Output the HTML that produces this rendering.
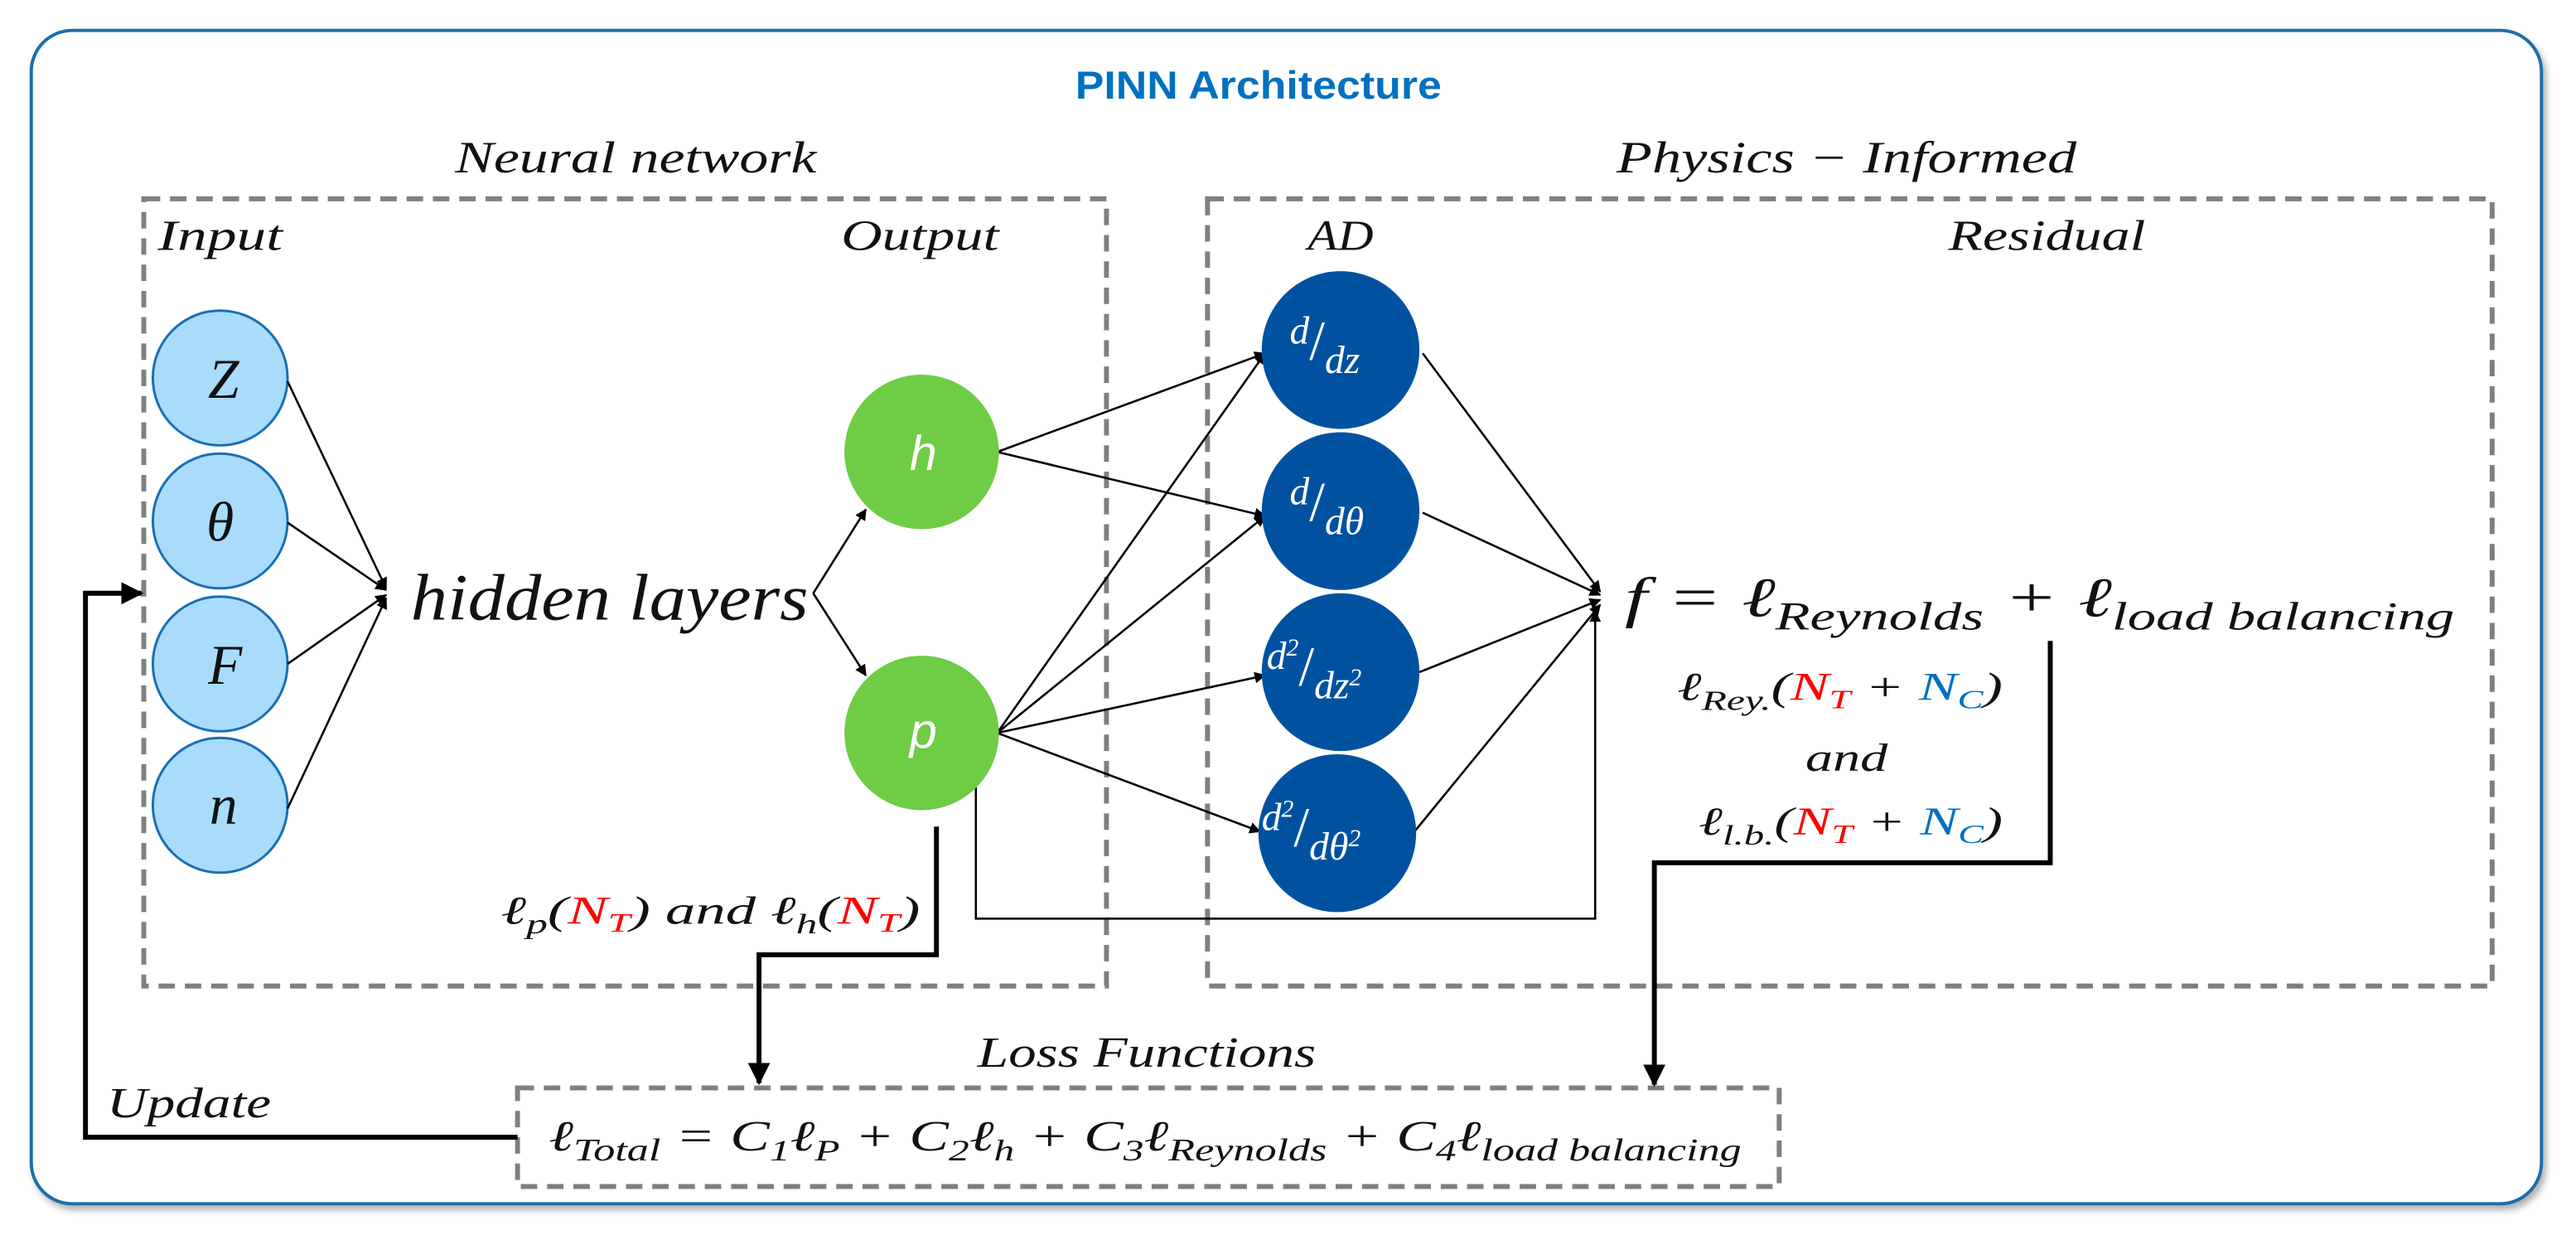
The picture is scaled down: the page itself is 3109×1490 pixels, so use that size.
<!DOCTYPE html>
<html><head><meta charset="utf-8"><style>
html,body{margin:0;padding:0;background:#fff;}
svg{display:block;}
text{font-family:"Liberation Serif","DejaVu Serif",serif;font-style:italic;fill:#111;}
.s{font-family:"Liberation Sans","DejaVu Sans",sans-serif;}
</style></head><body>
<svg width="3109" height="1490" viewBox="0 0 1568 751.5" xmlns="http://www.w3.org/2000/svg">
<defs>
<marker id="a" viewBox="0 0 10 10" refX="9" refY="5" markerWidth="7" markerHeight="7" markerUnits="userSpaceOnUse" orient="auto"><path d="M0,0 L10,5 L0,10 z" fill="#000"/></marker>
<marker id="b" viewBox="0 0 10 10" refX="9" refY="5" markerWidth="4.5" markerHeight="4.5" orient="auto"><path d="M0,0 L10,5 L0,10 z" fill="#000"/></marker>
<filter id="sh" x="-5%" y="-5%" width="110%" height="110%"><feDropShadow dx="2" dy="3" stdDeviation="2" flood-color="#000" flood-opacity="0.3"/></filter>
</defs>
<rect x="19" y="18.5" width="1528" height="714" rx="25" ry="25" fill="#fff" stroke="#1a6ea8" stroke-width="2" filter="url(#sh)"/>
<text x="766" y="60" class="s" text-anchor="middle" font-size="24" font-weight="bold" style="fill:#0070c0;font-style:normal" textLength="223" lengthAdjust="spacingAndGlyphs">PINN Architecture</text>

<g fill="none" stroke="#7f7f7f" stroke-width="3" stroke-dasharray="10,6">
<rect x="87.5" y="121" width="586" height="479"/>
<rect x="735" y="121" width="782" height="479"/>
<rect x="315" y="662" width="768" height="60"/>
</g>

<text x="277" y="105" font-size="27" textLength="220" lengthAdjust="spacingAndGlyphs">Neural network</text>
<text x="984" y="105" font-size="27" textLength="280" lengthAdjust="spacingAndGlyphs">Physics − Informed</text>
<text x="96" y="152" font-size="26" textLength="76" lengthAdjust="spacingAndGlyphs">Input</text>
<text x="512" y="152" font-size="26" textLength="96" lengthAdjust="spacingAndGlyphs">Output</text>
<text x="796" y="152" font-size="26" textLength="40" lengthAdjust="spacingAndGlyphs">AD</text>
<text x="1186" y="152" font-size="26" textLength="120" lengthAdjust="spacingAndGlyphs">Residual</text>

<g fill="#a9dcfb" stroke="#1a6eb5" stroke-width="1.5">
<circle cx="134" cy="230" r="41"/><circle cx="134" cy="317" r="41"/><circle cx="134" cy="404" r="41"/><circle cx="134" cy="490" r="41"/>
</g>
<g font-size="34" text-anchor="middle">
<text x="136" y="242">Z</text><text x="134" y="329">θ</text><text x="137" y="416">F</text><text x="136" y="501">n</text>
</g>
<g stroke="#000" stroke-width="1.3" marker-end="url(#a)" fill="none">
<line x1="175" y1="232" x2="235" y2="358"/>
<line x1="175" y1="318" x2="235" y2="359"/>
<line x1="175" y1="404" x2="235" y2="362"/>
<line x1="175" y1="492" x2="235" y2="364"/>
<line x1="495" y1="361" x2="527" y2="310"/>
<line x1="495" y1="361" x2="527" y2="411"/>
<line x1="607" y1="275" x2="770" y2="215"/>
<line x1="607" y1="275" x2="770" y2="314"/>
<line x1="607" y1="446" x2="770" y2="215"/>
<line x1="607" y1="446" x2="770" y2="314"/>
<line x1="607" y1="446" x2="770" y2="411"/>
<line x1="607" y1="446" x2="767" y2="506"/>
<line x1="866" y1="215" x2="974" y2="360"/>
<line x1="866" y1="312" x2="974" y2="362"/>
<line x1="864" y1="409" x2="974" y2="365"/>
<line x1="861" y1="506" x2="974" y2="368"/>
<polyline points="594,479 594,559 971,559 971,372"/>
</g>
<text x="250" y="377" font-size="40" textLength="242" lengthAdjust="spacingAndGlyphs">hidden layers</text>

<g fill="#6ecc45"><circle cx="561" cy="275" r="47"/><circle cx="561" cy="446" r="47"/></g>
<text x="562" y="286" class="s" font-size="30" text-anchor="middle" style="fill:#fff">h</text>
<text x="562" y="455" class="s" font-size="30" text-anchor="middle" style="fill:#fff">p</text>

<g fill="#0052a0"><circle cx="816" cy="213" r="48"/><circle cx="816" cy="311" r="48"/><circle cx="816" cy="409" r="48"/><circle cx="814" cy="507" r="48"/></g>
<g style="fill:#fff;font-style:italic" font-size="24">
<text x="785" y="209" style="fill:#fff">d<tspan font-size="34" dy="10" font-style="normal">/</tspan><tspan dy="8">dz</tspan></text>
<text x="785" y="307" style="fill:#fff">d<tspan font-size="34" dy="10" font-style="normal">/</tspan><tspan dy="8">dθ</tspan></text>
<text x="771" y="407" style="fill:#fff">d<tspan font-size="15" dy="-8">2</tspan><tspan font-size="34" dy="18" font-style="normal">/</tspan><tspan dy="8">dz</tspan><tspan font-size="15" dy="-8">2</tspan></text>
<text x="768" y="505" style="fill:#fff">d<tspan font-size="15" dy="-8">2</tspan><tspan font-size="34" dy="18" font-style="normal">/</tspan><tspan dy="8">dθ</tspan><tspan font-size="15" dy="-8">2</tspan></text>
</g>

<text x="989" y="375" font-size="34" textLength="505" lengthAdjust="spacingAndGlyphs">f = ℓ<tspan font-size="24" dy="8">Reynolds</tspan><tspan dy="-8"> + ℓ</tspan><tspan font-size="24" dy="8">load balancing</tspan></text>

<text x="1021" y="426" font-size="24" textLength="198" lengthAdjust="spacingAndGlyphs">ℓ<tspan font-size="17" dy="6">Rey.</tspan><tspan dy="-6">(</tspan><tspan style="fill:#ff0000">N</tspan><tspan font-size="16" dy="5" style="fill:#ff0000">T</tspan><tspan dy="-5"> + </tspan><tspan style="fill:#0070c0">N</tspan><tspan font-size="16" dy="5" style="fill:#0070c0">C</tspan><tspan dy="-5">)</tspan></text>
<text x="1099" y="469" font-size="24" textLength="50" lengthAdjust="spacingAndGlyphs">and</text>
<text x="1034" y="508" font-size="24" textLength="185" lengthAdjust="spacingAndGlyphs">ℓ<tspan font-size="17" dy="6">l.b.</tspan><tspan dy="-6">(</tspan><tspan style="fill:#ff0000">N</tspan><tspan font-size="16" dy="5" style="fill:#ff0000">T</tspan><tspan dy="-5"> + </tspan><tspan style="fill:#0070c0">N</tspan><tspan font-size="16" dy="5" style="fill:#0070c0">C</tspan><tspan dy="-5">)</tspan></text>

<text x="305" y="562" font-size="24" textLength="255" lengthAdjust="spacingAndGlyphs">ℓ<tspan font-size="17" dy="6">p</tspan><tspan dy="-6">(</tspan><tspan style="fill:#ff0000">N</tspan><tspan font-size="16" dy="5" style="fill:#ff0000">T</tspan><tspan dy="-5">) and ℓ</tspan><tspan font-size="17" dy="6">h</tspan><tspan dy="-6">(</tspan><tspan style="fill:#ff0000">N</tspan><tspan font-size="16" dy="5" style="fill:#ff0000">T</tspan><tspan dy="-5">)</tspan></text>

<g stroke="#000" stroke-width="3" fill="none" marker-end="url(#b)">
<polyline points="570,503 570,581 462,581 462,659"/>
<polyline points="1248,390 1248,525 1007,525 1007,660"/>
<polyline points="315,692 52,692 52,361 86,361"/>
</g>

<text x="595" y="649" font-size="26" textLength="206" lengthAdjust="spacingAndGlyphs">Loss Functions</text>
<text x="65" y="680" font-size="26" textLength="100" lengthAdjust="spacingAndGlyphs">Update</text>
<text x="334" y="700" font-size="26" textLength="726" lengthAdjust="spacingAndGlyphs">ℓ<tspan font-size="19" dy="6">Total</tspan><tspan dy="-6"> = C</tspan><tspan font-size="18" dy="6">1</tspan><tspan dy="-6">ℓ</tspan><tspan font-size="18" dy="6">P</tspan><tspan dy="-6"> + C</tspan><tspan font-size="18" dy="6">2</tspan><tspan dy="-6">ℓ</tspan><tspan font-size="18" dy="6">h</tspan><tspan dy="-6"> + C</tspan><tspan font-size="18" dy="6">3</tspan><tspan dy="-6">ℓ</tspan><tspan font-size="19" dy="6">Reynolds</tspan><tspan dy="-6"> + C</tspan><tspan font-size="18" dy="6">4</tspan><tspan dy="-6">ℓ</tspan><tspan font-size="19" dy="6">load balancing</tspan></text>
</svg>
</body></html>
